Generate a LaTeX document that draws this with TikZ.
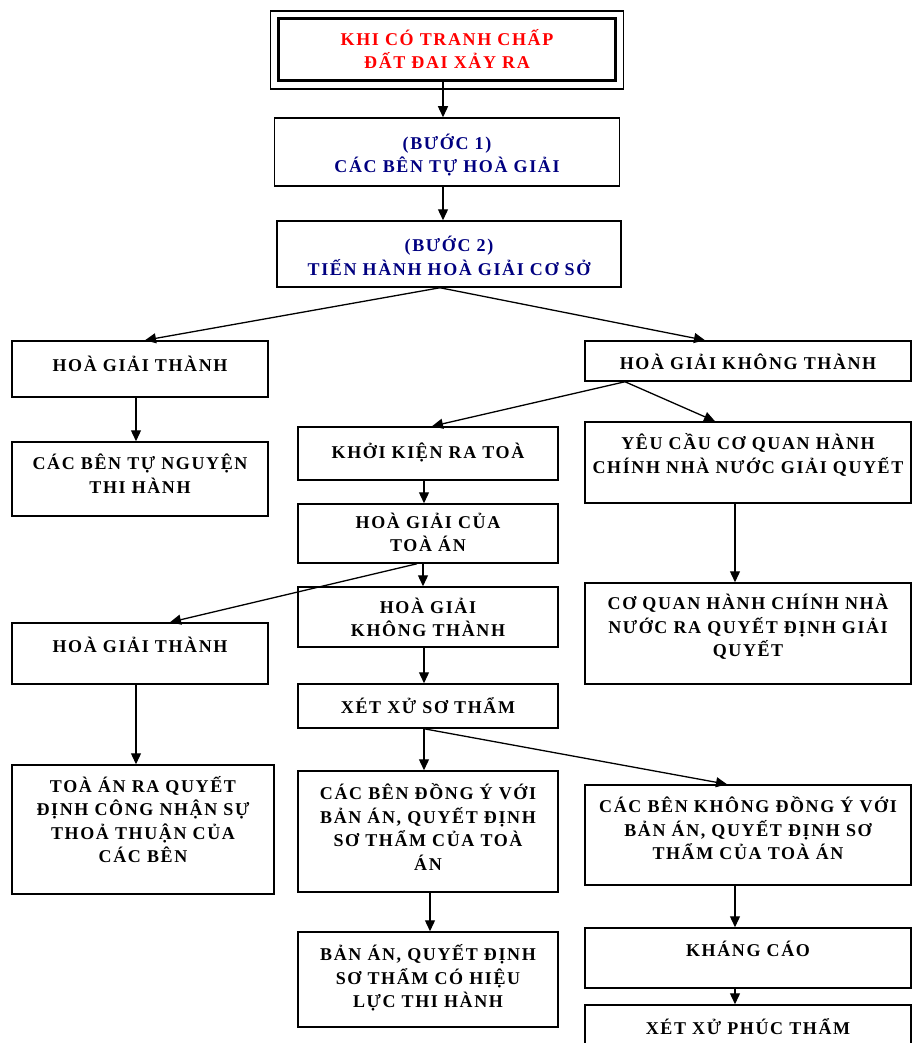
\documentclass[tikz,border=0pt]{standalone}
\usepackage{fontspec}
\usepackage{tikz}
\usetikzlibrary{arrows.meta,calc}
\newfontfamily\boxfont{Liberation Serif}[LetterSpace=9]
\definecolor{stepblue}{RGB}{0,0,128}
\newcommand{\liftup}[2]{\raisebox{\dimexpr#1-6pt\relax}[0pt][0pt]{\begin{tabular}{@{}c@{}}#2\end{tabular}}}
\tikzstyle{block} = [draw, rectangle, line width=1.5pt, inner sep=0pt, font=\boxfont\bfseries\fontsize{18}{23.5}\selectfont]

\begin{document}
\begin{tikzpicture}[x=1pt, y=-1pt, >={Triangle[length=11pt,width=10pt]}, line width=1.3pt]
    \clip (0,0) rectangle (912,1043);
    \node [block, line width=3pt, text=red, minimum width=337pt, minimum height=62pt] (start) at (447,50) {\liftup{-0.5pt}{KHI CÓ TRANH CHẤP\\ĐẤT ĐAI XẢY RA}};
    \draw [line width=1.3pt] ($(start.north west)+(-6.5,-6.5)$) rectangle ($(start.south east)+(6.5,6.5)$);
    \node [block, text=stepblue, minimum width=345pt, minimum height=68pt] (step1) at (447,152) {\liftup{-2.5pt}{(BƯỚC 1)\\CÁC BÊN TỰ HOÀ GIẢI}};
    \node [block, text=stepblue, minimum width=344pt, minimum height=66pt] (step2) at (449,254) {\liftup{-3pt}{(BƯỚC 2)\\TIẾN HÀNH HOÀ GIẢI CƠ SỞ}};

    \node [block, minimum width=256pt, minimum height=56pt] (success1) at (140,369) {\liftup{4pt}{HOÀ GIẢI THÀNH}};
    \node [block, minimum width=326pt, minimum height=40pt] (fail1) at (748,361) {\liftup{-2pt}{HOÀ GIẢI KHÔNG THÀNH}};
    \node [block, minimum width=256pt, minimum height=74pt] (comply) at (140,479) {\liftup{4pt}{CÁC BÊN TỰ NGUYỆN\\THI HÀNH}};
    \node [block, minimum width=260pt, minimum height=53pt] (sue) at (428,453.5) {\liftup{1.5pt}{KHỞI KIỆN RA TOÀ}};
    \node [block, minimum width=326pt, minimum height=81pt] (request) at (748,462.5) {\liftup{7.5pt}{YÊU CẦU CƠ QUAN HÀNH\\CHÍNH NHÀ NƯỚC GIẢI QUYẾT}};
    \node [block, minimum width=260pt, minimum height=59pt] (courtmed) at (428,533.5) {\liftup{0pt}{HOÀ GIẢI CỦA\\TOÀ ÁN}};
    \node [block, minimum width=260pt, minimum height=60pt] (fail2) at (428,617) {\liftup{-1.5pt}{HOÀ GIẢI\\KHÔNG THÀNH}};
    \node [block, minimum width=326pt, minimum height=101pt] (admin) at (748,633.5) {\liftup{6.5pt}{CƠ QUAN HÀNH CHÍNH NHÀ\\NƯỚC RA QUYẾT ĐỊNH GIẢI\\QUYẾT}};
    \node [block, minimum width=256pt, minimum height=61pt] (success2) at (140,653.5) {\liftup{7.5pt}{HOÀ GIẢI THÀNH}\hspace{44pt}};
    \node [block, minimum width=260pt, minimum height=44pt] (trial) at (428,706) {\liftup{-1pt}{XÉT XỬ SƠ THẨM}};
    \node [block, minimum width=262pt, minimum height=129pt] (recognize) at (143,829.5) {\liftup{8.5pt}{TOÀ ÁN RA QUYẾT\\ĐỊNH CÔNG NHẬN SỰ\\THOẢ THUẬN CỦA\\CÁC BÊN}};
    \node [block, minimum width=260pt, minimum height=121pt] (agree) at (428,831.5) {\liftup{3pt}{CÁC BÊN ĐỒNG Ý VỚI\\BẢN ÁN, QUYẾT ĐỊNH\\SƠ THẨM CỦA TOÀ\\ÁN}};
    \node [block, minimum width=326pt, minimum height=100pt] (disagree) at (748,835) {\liftup{5pt}{CÁC BÊN KHÔNG ĐỒNG Ý VỚI\\BẢN ÁN, QUYẾT ĐỊNH SƠ\\THẨM CỦA TOÀ ÁN}};
    \node [block, minimum width=260pt, minimum height=95pt] (effect) at (428,979.5) {\liftup{1.5pt}{BẢN ÁN, QUYẾT ĐỊNH\\SƠ THẨM CÓ HIỆU\\LỰC THI HÀNH}};
    \node [block, minimum width=326pt, minimum height=60pt] (appeal) at (748,958) {\liftup{8pt}{KHÁNG CÁO}};
    \node [block, minimum width=326pt, minimum height=60pt] (retrial) at (748,1035) {\liftup{7pt}{XÉT XỬ PHÚC THẨM}};

    \draw [->] ([xshift=-4pt]start.south) -- ([xshift=-4pt]start.south |- step1.north);
    \draw [->] ([xshift=-4pt]step1.south) -- ([xshift=-4pt]step1.south |- step2.north);
    \draw [->] ([xshift=-9pt]step2.south) -- ([xshift=5pt]success1.north);
    \draw [->] ([xshift=-9pt]step2.south) -- ([xshift=-43pt]fail1.north);
    \draw [->] ([xshift=-4pt]success1.south) -- ([xshift=-4pt]success1.south |- comply.north);
    \draw [->] ([xshift=-123pt]fail1.south) -- ([xshift=4pt]sue.north);
    \draw [->] ([xshift=-123pt]fail1.south) -- ([xshift=-33pt]request.north);
    \draw [->] ([xshift=-13pt]request.south) -- ([xshift=-13pt]request.south |- admin.north);
    \draw [->] ([xshift=-4pt]sue.south) -- ([xshift=-4pt]sue.south |- courtmed.north);
    \draw [->] ([xshift=-5pt]courtmed.south) -- ([xshift=-5pt]courtmed.south |- fail2.north);
    \draw [->] ([xshift=-11pt]courtmed.south) -- ([xshift=30pt]success2.north);
    \draw [->] ([xshift=-4pt]success2.south) -- ([xshift=-4pt]success2.south |- recognize.north);
    \draw [->] ([xshift=-4pt]fail2.south) -- ([xshift=-4pt]fail2.south |- trial.north);
    \draw [->] ([xshift=-4pt]trial.south) -- ([xshift=-4pt]trial.south |- agree.north);
    \draw [->] ([xshift=-4pt]trial.south) -- ([xshift=-21pt]disagree.north);
    \draw [->] ([xshift=2pt]agree.south) -- ([xshift=2pt]agree.south |- effect.north);
    \draw [->] ([xshift=-13pt]disagree.south) -- ([xshift=-13pt]disagree.south |- appeal.north);
    \draw [->] ([xshift=-13pt]appeal.south) -- ([xshift=-13pt]appeal.south |- retrial.north);
\end{tikzpicture}
\end{document}
